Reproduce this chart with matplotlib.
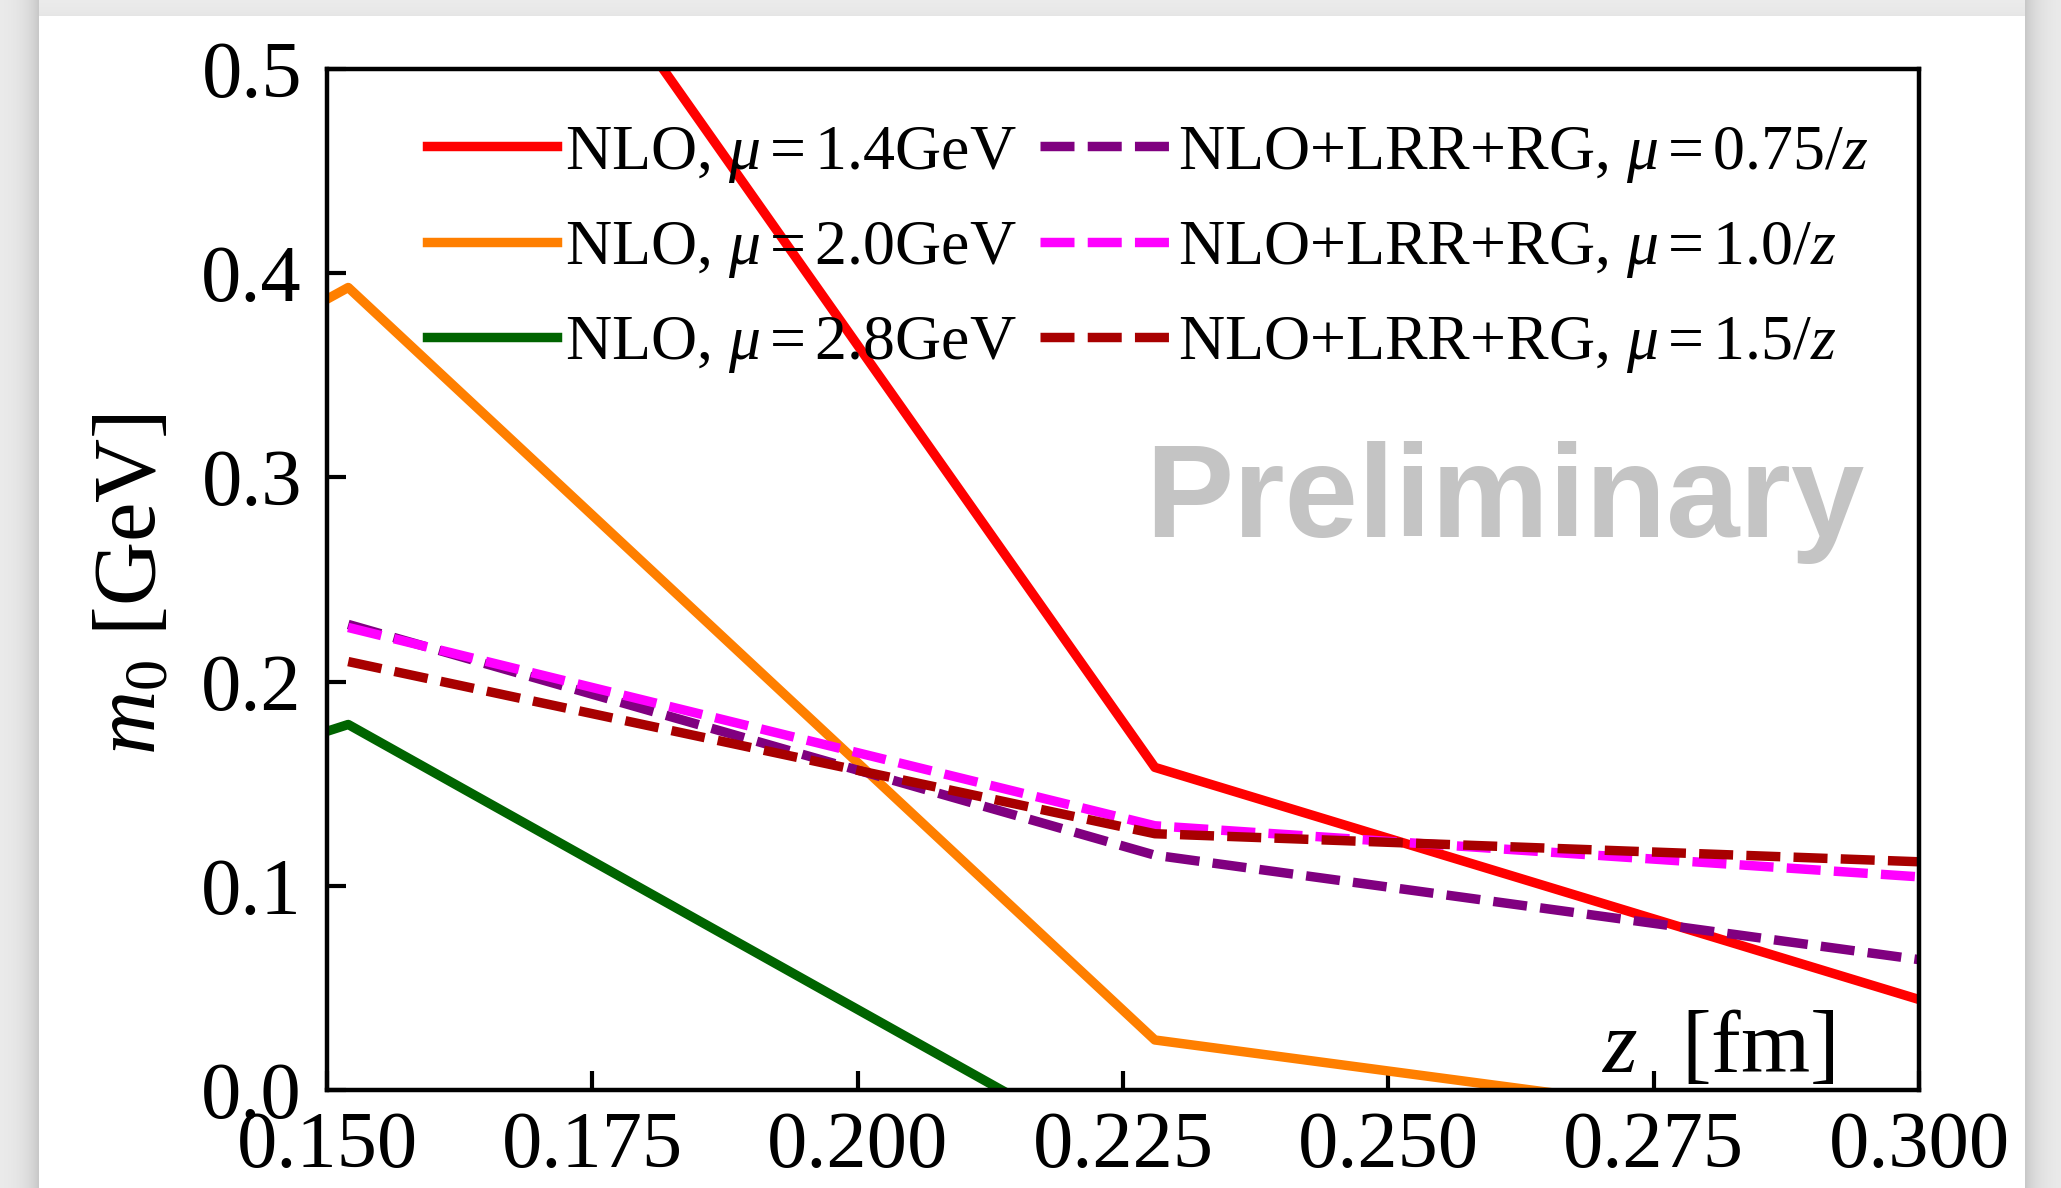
import numpy as np
import matplotlib
matplotlib.use("Agg")
import matplotlib.pyplot as plt
from matplotlib.patches import Rectangle
from matplotlib.ticker import FormatStrFormatter

plt.rcParams["font.family"] = ["Liberation Serif", "DejaVu Serif"]
plt.rcParams["mathtext.fontset"] = "custom"
plt.rcParams["mathtext.rm"] = "Liberation Serif"
plt.rcParams["mathtext.it"] = "Liberation Serif:italic"
plt.rcParams["mathtext.bf"] = "Liberation Serif:bold"

# separations z = n*a (fm)
z_nlo = [0.076, 0.152, 0.228, 0.304]
z_rg = [0.152, 0.228, 0.304]

# NLO at fixed scales (GeV)
m0_nlo_14 = [np.nan, 0.719, 0.158, 0.038]
m0_nlo_20 = [0.176, 0.393, 0.0245, -0.028]
m0_nlo_28 = [0.052, 0.179, -0.042, -0.090]

# NLO+LRR+RG with z-dependent scale
m0_rg_075 = [0.228, 0.115, 0.061]
m0_rg_10 = [0.2265, 0.1294, 0.103]
m0_rg_15 = [0.2098, 0.1255, 0.111]

labels_nlo = [r"NLO, $\mu = 1.4$GeV", r"NLO, $\mu = 2.0$GeV", r"NLO, $\mu = 2.8$GeV"]
labels_rg = [r"NLO+LRR+RG, $\mu = 0.75/z$", r"NLO+LRR+RG, $\mu = 1.0/z$",
             r"NLO+LRR+RG, $\mu = 1.5/z$"]
xticks = [0.150, 0.175, 0.200, 0.225, 0.250, 0.275, 0.300]
yticks = [0.0, 0.1, 0.2, 0.3, 0.4, 0.5]

W, H = 2061, 1188
fig = plt.figure(figsize=(W / 100, H / 100), dpi=100)

# page backdrop with a soft drop shadow around the white sheet
bg = fig.add_axes([0, 0, 1, 1], zorder=-10)
px0, px1, py0 = 39, 2025, 16
xx = np.arange(W)[None, :] + 0.5
yy = np.arange(H)[:, None] + 0.5
dx = np.where(xx < px0, px0 - xx, np.where(xx > px1, xx - px1, 0.0))
dy = np.where(yy < py0, py0 - yy, 0.0)
shade = np.full((H, W), 0.93)
shade = shade - 0.15 * np.exp(-dx / 14.0) * (dx > 0) - 0.03 * np.exp(-dy / 10.0) * (dy > 0) * (dx == 0)
shade = np.clip(shade, 0, 1)
bg.imshow(np.dstack([shade] * 3), extent=(0, W, H, 0), interpolation="bilinear", aspect="auto")
bg.add_patch(Rectangle((px0, py0), px1 - px0, H - py0, facecolor="white", edgecolor="none"))
bg.set_xlim(0, W)
bg.set_ylim(H, 0)
bg.axis("off")

ax = fig.add_axes([327 / W, 1 - 1090 / H, (1919 - 327) / W, (1090 - 69) / H])
ax.set_facecolor("none")

lw = 6.8
dash = (3.6, 1.4)
ax.plot(z_nlo, m0_nlo_14, color="#ff0000", lw=lw, label=labels_nlo[0])
ax.plot(z_nlo, m0_nlo_20, color="#ff7f00", lw=lw, label=labels_nlo[1])
ax.plot(z_nlo, m0_nlo_28, color="#006400", lw=lw, label=labels_nlo[2])
ax.plot(z_rg, m0_rg_075, color="#800080", lw=lw, ls=(0, dash), label=labels_rg[0])
ax.plot(z_rg, m0_rg_10, color="#ff00ff", lw=lw, ls=(0, dash), label=labels_rg[1])
ax.plot(z_rg, m0_rg_15, color="#a80000", lw=lw, ls=(0, dash), label=labels_rg[2])

ax.set_xlim(0.15, 0.30)
ax.set_ylim(0.0, 0.5)
ax.set_xticks(xticks)
ax.set_yticks(yticks)
ax.xaxis.set_major_formatter(FormatStrFormatter("%.3f"))
ax.yaxis.set_major_formatter(FormatStrFormatter("%.1f"))
ax.tick_params(direction="in", length=14, width=3, top=False, right=False, labelsize=58)
ax.tick_params(axis="x", pad=15)
ax.tick_params(axis="y", pad=18)
for sp in ax.spines.values():
    sp.set_linewidth(3.2)

ax.set_xlabel(r"$z$  [fm]", fontsize=64, ha="right", va="baseline")
ax.xaxis.set_label_coords(0.9466, 0.0176)
ax.set_ylabel(r"$m_0$ [GeV]", fontsize=64, va="center")
ax.yaxis.set_label_coords(-0.1222, 0.496)

ax.text(0.740, 0.5416, "Preliminary", transform=ax.transAxes, fontsize=95,
        fontweight="bold", family="Liberation Sans", color="#c4c4c4",
        ha="center", va="baseline", zorder=0.5)

ax.legend(ncol=2, loc="upper left", bbox_to_anchor=(0.0625, 0.946), frameon=False,
          fontsize=46, borderpad=0, borderaxespad=0, handlelength=2.05,
          handletextpad=0.12, columnspacing=0.36, labelspacing=0.54)

fig.savefig("out.png", dpi=100)
